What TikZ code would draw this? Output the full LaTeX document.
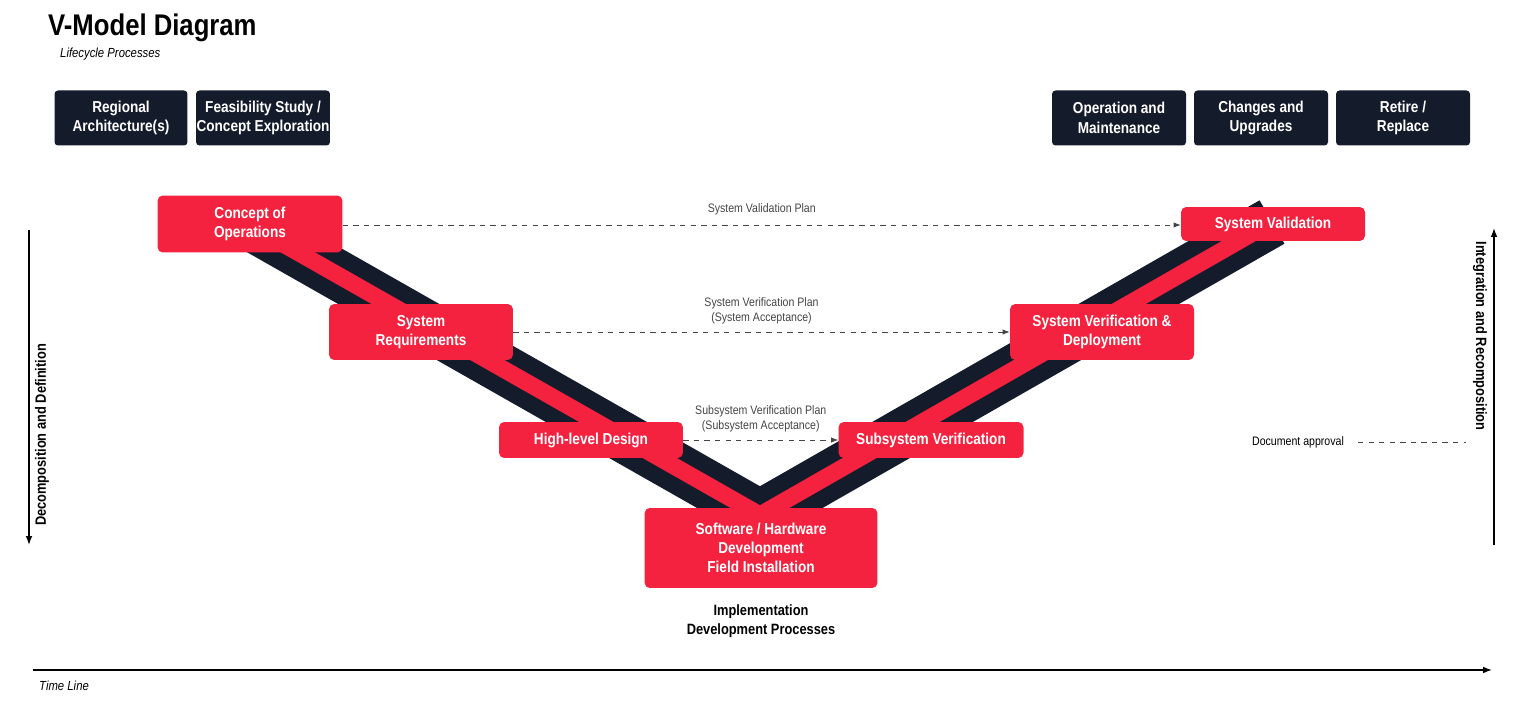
\documentclass[tikz,border=0pt]{standalone}
\usepackage{fontspec}
\setmainfont{Liberation Sans}[FakeStretch=0.86]
\usetikzlibrary{arrows.meta}
\definecolor{vred}{HTML}{F4223F}
\definecolor{vnavy}{HTML}{141B2B}
\definecolor{vgrey}{HTML}{444444}
\tikzset{
  phase/.style = {fill=vnavy, text=white, font=\bfseries\fontsize{9}{11}\selectfont, rounded corners=2pt, align=center, inner sep=0pt},
  stage/.style = {fill=vred, text=white, font=\bfseries\fontsize{9}{11}\selectfont, rounded corners=3pt, align=center, inner sep=0pt},
  plan/.style  = {vgrey, dashed, -{Latex[length=4pt]}},
  lbl/.style   = {text=vgrey, font=\fontsize{7}{8.5}\selectfont, align=center},
  axis/.style  = {-{Latex[length=5pt]}, line width=0.8pt},
}
\begin{document}
\begin{tikzpicture}[x=0.02cm, y=-0.02cm]
\useasboundingbox (0,0) rectangle (1523,705);
% title
\node[anchor=west, font=\bfseries\fontsize{17}{20}\selectfont] (title) at (42,28) {V-Model Diagram};
\node[anchor=west, font=\itshape\fontsize{7.5}{9}\selectfont] (sub) at (54,54) {Lifecycle Processes};
% lifecycle boxes
\node[phase, minimum width=2.66cm, minimum height=1.1cm] (reg) at (121,118) {Regional\\Architecture(s)};
\node[phase, minimum width=2.68cm, minimum height=1.1cm] (feas) at (263,118) {Feasibility Study /\\Concept Exploration};
\node[phase, minimum width=2.68cm, minimum height=1.1cm] (ops) at (1119,118) {Operation and\\Maintenance};
\node[phase, minimum width=2.68cm, minimum height=1.1cm] (chg) at (1261,118) {Changes and\\Upgrades};
\node[phase, minimum width=2.68cm, minimum height=1.1cm] (ret) at (1403,118) {Retire /\\Replace};
% the V
\draw[vnavy, line width=1cm] (255,228) -- (760,515) -- (1272,222);
\draw[vred, line width=0.34cm] (255,228) -- (760,515) -- (1272,222);
% stages
\node[stage, minimum width=3.7cm, minimum height=1.14cm] (conops) at (250,224) {Concept of\\Operations};
\node[stage, minimum width=3.68cm, minimum height=1.12cm] (sysreq) at (421,332) {System\\Requirements};
\node[stage, minimum width=3.68cm, minimum height=0.72cm] (hld) at (591,440) {High-level Design};
\node[stage, minimum width=4.66cm, minimum height=1.6cm] (impl) at (761,548) {Software / Hardware\\Development\\Field Installation};
\node[stage, minimum width=3.7cm, minimum height=0.72cm] (subver) at (931,440) {Subsystem Verification};
\node[stage, minimum width=3.68cm, minimum height=1.12cm] (sysver) at (1102,332) {System Verification \&\\Deployment};
\node[stage, minimum width=3.68cm, minimum height=0.68cm] (sysval) at (1273,224) {System Validation};
% plans
\draw[plan] (conops.east |- 0,225) -- node[lbl, above=2pt] {System Validation Plan} (sysval.west |- 0,225);
\draw[plan] (sysreq) -- node[lbl, above=1pt] {System Verification Plan\\(System Acceptance)} (sysver);
\draw[plan] (hld) -- node[lbl, above=1pt] {Subsystem Verification Plan\\(Subsystem Acceptance)} (subver);
\node[lbl, text=black] (docap) at (1298,442) {Document approval};
\coordinate (docend) at (1466,442);
\draw[vgrey, dashed] (docap.east) ++(8,0) -- (docend);
\node[font=\bfseries\fontsize{8.5}{11}\selectfont, align=center] (implbl) at (761,621) {Implementation\\Development Processes};
% axes
\coordinate (lt) at (29,230); \coordinate (lb) at (29,545);
\draw[axis] (lt) -- (lb);
\node[rotate=90, font=\bfseries\fontsize{8.5}{10}\selectfont] (decomp) at (42,435) {Decomposition and Definition};
\coordinate (rb) at (1494,545); \coordinate (rt) at (1494,228);
\draw[axis] (rb) -- (rt);
\node[rotate=-90, font=\bfseries\fontsize{8.5}{10}\selectfont] (integ) at (1480,336) {Integration and Recomposition};
\coordinate (tl0) at (33,670); \coordinate (tl1) at (1492,670);
\draw[axis] (tl0) -- (tl1);
\node[anchor=west, font=\itshape\fontsize{7.5}{9}\selectfont] (timeline) at (33,686) {Time Line};
\end{tikzpicture}
\end{document}
